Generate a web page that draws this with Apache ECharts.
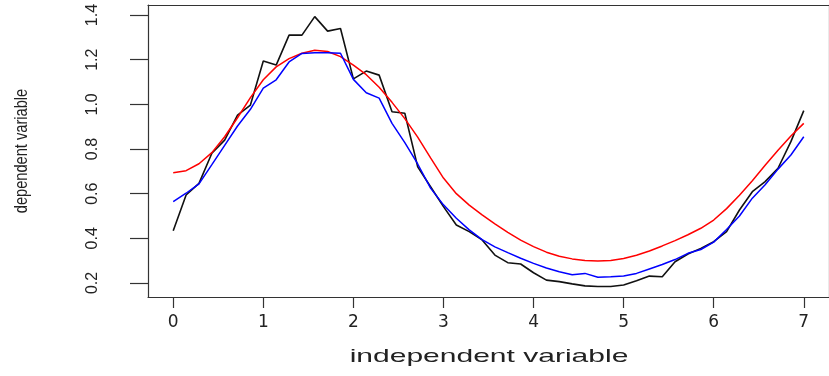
<!DOCTYPE html>
<html>
<head>
<meta charset="utf-8">
<script src="https://cdn.jsdelivr.net/npm/echarts@6/dist/echarts.min.js"></script>
<style>
html,body{margin:0;padding:0;background:#fff;}
#chart{width:829px;height:376px;}
</style>
</head>
<body>
<div id="chart"></div>
<script>
const xValues = [0, 0.143, 0.286, 0.429, 0.571, 0.714, 0.857, 1, 1.143, 1.286, 1.429, 1.571, 1.714, 1.857, 2, 2.143, 2.286, 2.429, 2.571, 2.714, 2.857, 3, 3.143, 3.286, 3.429, 3.571, 3.714, 3.857, 4, 4.143, 4.286, 4.429, 4.571, 4.714, 4.857, 5, 5.143, 5.286, 5.429, 5.571, 5.714, 5.857, 6, 6.143, 6.286, 6.429, 6.571, 6.714, 6.857, 7];
const observed = [0.434, 0.594, 0.646, 0.781, 0.84, 0.952, 0.997, 1.194, 1.176, 1.31, 1.31, 1.393, 1.328, 1.34, 1.114, 1.149, 1.131, 0.967, 0.96, 0.72, 0.631, 0.542, 0.46, 0.43, 0.393, 0.325, 0.291, 0.285, 0.246, 0.213, 0.206, 0.196, 0.187, 0.184, 0.184, 0.191, 0.21, 0.231, 0.228, 0.295, 0.33, 0.355, 0.385, 0.43, 0.527, 0.609, 0.654, 0.714, 0.833, 0.972];
const fitted = [0.694, 0.703, 0.734, 0.784, 0.855, 0.94, 1.03, 1.11, 1.168, 1.205, 1.229, 1.242, 1.237, 1.214, 1.176, 1.133, 1.077, 1.009, 0.936, 0.853, 0.76, 0.67, 0.6, 0.549, 0.505, 0.465, 0.427, 0.392, 0.363, 0.338, 0.32, 0.308, 0.301, 0.298, 0.301, 0.31, 0.324, 0.343, 0.366, 0.39, 0.416, 0.445, 0.482, 0.533, 0.593, 0.658, 0.727, 0.795, 0.858, 0.915];
const smoothed = [0.564, 0.602, 0.644, 0.73, 0.816, 0.903, 0.978, 1.073, 1.11, 1.19, 1.228, 1.231, 1.231, 1.229, 1.112, 1.052, 1.028, 0.915, 0.829, 0.733, 0.625, 0.55, 0.49, 0.438, 0.394, 0.362, 0.336, 0.311, 0.288, 0.267, 0.25, 0.237, 0.243, 0.226, 0.228, 0.231, 0.243, 0.263, 0.283, 0.305, 0.333, 0.35, 0.383, 0.44, 0.5, 0.58, 0.64, 0.71, 0.773, 0.855];
const xTicks = [0, 1, 2, 3, 4, 5, 6, 7];
const yTicks = [0.2, 0.4, 0.6, 0.8, 1.0, 1.2, 1.4];
const xTitle = 'independent variable';
const yTitle = 'dependent variable';

const pairs = ys => xValues.map((x, i) => [x, ys[i]]);
const axisColor = '#333';
const sans = '"Liberation Sans", Arial, sans-serif';

const chart = echarts.init(document.getElementById('chart'), null, {renderer: 'canvas'});
chart.setOption({
  animation: false,
  backgroundColor: '#fff',
  grid: {left: 148, top: 5, width: 684, height: 292, containLabel: false},
  xAxis: [{
    type: 'value', min: -0.28, max: 7.28, position: 'bottom',
    splitLine: {show: false},
    axisLine: {show: true, onZero: false, lineStyle: {color: axisColor, width: 1.2}},
    axisTick: {show: true, customValues: xTicks, length: 11, lineStyle: {color: axisColor, width: 1.2}},
    axisLabel: {show: true, customValues: xTicks, margin: 17, color: '#222', fontSize: 17, fontFamily: '"DejaVu Sans", sans-serif'}
  }, {
    type: 'value', min: -0.28, max: 7.28, position: 'top',
    splitLine: {show: false},
    axisLine: {show: true, onZero: false, lineStyle: {color: axisColor, width: 1.2}},
    axisTick: {show: false}, axisLabel: {show: false}
  }],
  yAxis: [{
    type: 'value', min: 0.1373, max: 1.445, position: 'left',
    splitLine: {show: false},
    axisLine: {show: true, onZero: false, lineStyle: {color: axisColor, width: 1.2}},
    axisTick: {show: true, customValues: yTicks, length: 18, lineStyle: {color: axisColor, width: 1.2}},
    axisLabel: {show: true, customValues: yTicks, rotate: 90, margin: 47, color: '#222', fontSize: 16, fontFamily: sans,
      formatter: v => v.toFixed(1)}
  }, {
    type: 'value', min: 0.1373, max: 1.445, position: 'right',
    splitLine: {show: false},
    axisLine: {show: true, onZero: false, lineStyle: {color: axisColor, width: 1.2}},
    axisTick: {show: false}, axisLabel: {show: false}
  }],
  graphic: [{
    type: 'text', x: 489, y: 357, scaleX: 1.58,
    style: {text: xTitle, font: '19px ' + sans, fill: '#222', textAlign: 'center', textVerticalAlign: 'middle'}
  }, {
    type: 'text', x: 22, y: 151, rotation: Math.PI / 2, scaleX: 0.77,
    style: {text: yTitle, font: '19px ' + sans, fill: '#222', textAlign: 'center', textVerticalAlign: 'middle'}
  }],
  series: [{
    type: 'line', data: pairs(observed), showSymbol: false, symbol: 'none',
    lineStyle: {color: '#111', width: 1.6}
  }, {
    type: 'line', data: pairs(fitted), showSymbol: false, symbol: 'none',
    lineStyle: {color: '#ff0000', width: 1.5}
  }, {
    type: 'line', data: pairs(smoothed), showSymbol: false, symbol: 'none',
    lineStyle: {color: '#0000ff', width: 1.5}
  }]
});
</script>
</body>
</html>
